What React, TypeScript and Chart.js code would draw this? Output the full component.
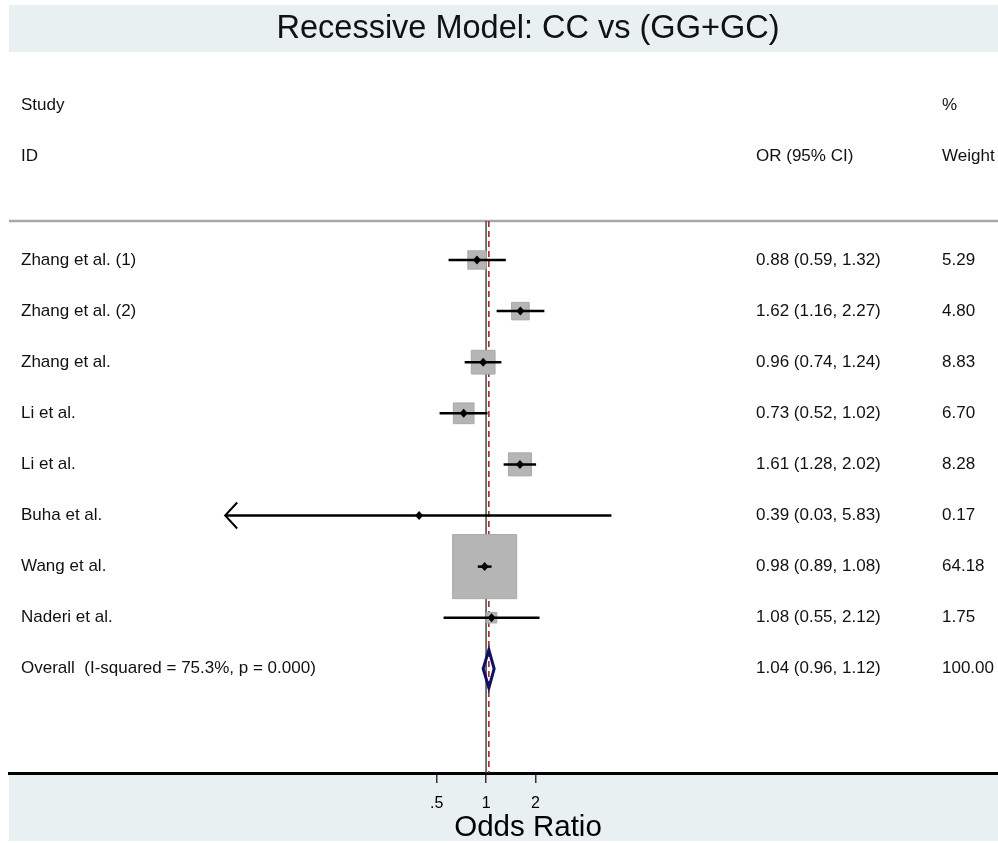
import React, { useEffect, useRef } from 'react';
import { Chart, registerables } from 'chart.js';

Chart.register(...registerables);

// ---- data ----
const studies = [
  'Zhang et al. (1)',
  'Zhang et al. (2)',
  'Zhang et al.',
  'Li et al.',
  'Li et al.',
  'Buha et al.',
  'Wang et al.',
  'Naderi et al.',
];
const oddsRatios = [0.88, 1.62, 0.96, 0.73, 1.61, 0.39, 0.98, 1.08];
const ciLower = [0.59, 1.16, 0.74, 0.52, 1.28, 0.0252, 0.89, 0.55];
const ciUpper = [1.32, 2.27, 1.24, 1.02, 2.02, 5.83, 1.08, 2.12];
const weights = [5.29, 4.8, 8.83, 6.7, 8.28, 0.17, 64.18, 1.75];

const overallLabel = 'Overall  (I-squared = 75.3%, p = 0.000)';
const overallOR = 1.04;
const overallLower = 0.96;
const overallUpper = 1.12;
const overallWeight = 100.0;

const tickValues = [0.5, 1, 2];
const tickLabels = ['.5', '1', '2'];

const chartTitle = 'Recessive Model: CC vs (GG+GC)';
const axisTitle = 'Odds Ratio';

// axis range (data space)
const axisMin = 0.00122;
const axisMax = 1338;
// confidence intervals reaching below this value are clipped and drawn with an arrow
const arrowClipValue = 0.0255;

const FONT = "'Liberation Sans', Arial, Helvetica, sans-serif";
const TEXT = '#111111';

const fmt = (v: number) => v.toFixed(2);

const forestPlugin = {
  id: 'forest',
  beforeDraw(chart: any) {
    const ctx = chart.ctx;
    ctx.save();
    ctx.fillStyle = '#ffffff';
    ctx.fillRect(0, 0, chart.width, chart.height);
    ctx.fillStyle = '#e8f0f2';
    ctx.fillRect(9, 5, chart.width - 9, 47);
    ctx.fillRect(9, 775, chart.width - 9, 66);
    ctx.fillStyle = TEXT;
    ctx.font = `32.5px ${FONT}`;
    ctx.textAlign = 'center';
    ctx.textBaseline = 'middle';
    ctx.fillText(chartTitle, 528, 29);
    ctx.font = `29.5px ${FONT}`;
    ctx.fillStyle = '#000';
    ctx.fillText(axisTitle, 528, 828);
    ctx.restore();
  },
  beforeDatasetsDraw(chart: any) {
    const ctx = chart.ctx;
    const { left, right, top, bottom } = chart.chartArea;
    const x = chart.scales.x;
    ctx.save();
    // header separator line
    ctx.strokeStyle = '#a9a9a9';
    ctx.lineWidth = 2.5;
    ctx.beginPath();
    ctx.moveTo(left, top);
    ctx.lineTo(right, top);
    ctx.stroke();
    // null line
    const nx = x.getPixelForValue(1);
    ctx.strokeStyle = '#444444';
    ctx.lineWidth = 1.5;
    ctx.beginPath();
    ctx.moveTo(nx, top);
    ctx.lineTo(nx, bottom);
    ctx.stroke();
    // overall estimate dashed line
    const ox = x.getPixelForValue(overallOR);
    ctx.strokeStyle = '#9b1c1c';
    ctx.setLineDash([6, 4]);
    ctx.beginPath();
    ctx.moveTo(ox, top);
    ctx.lineTo(ox, bottom);
    ctx.stroke();
    ctx.setLineDash([]);
    ctx.restore();
  },
  afterDatasetsDraw(chart: any) {
    const ctx = chart.ctx;
    const x = chart.scales.x;
    const y = chart.scales.y;
    ctx.save();
    // CI lines
    ctx.strokeStyle = '#000';
    ctx.lineWidth = 2.5;
    studies.forEach((_, i) => {
      const py = y.getPixelForValue(i);
      const clipped = ciLower[i] < arrowClipValue;
      const x1 = x.getPixelForValue(clipped ? arrowClipValue : ciLower[i]);
      const x2 = x.getPixelForValue(ciUpper[i]);
      ctx.beginPath();
      ctx.moveTo(x1, py);
      ctx.lineTo(x2, py);
      ctx.stroke();
      if (clipped) {
        ctx.lineWidth = 2;
        ctx.beginPath();
        ctx.moveTo(x1 + 12, py - 13);
        ctx.lineTo(x1, py);
        ctx.lineTo(x1 + 12, py + 13);
        ctx.stroke();
        ctx.lineWidth = 2.5;
      }
    });
    // point estimates (small diamonds) on top of the CI lines
    ctx.fillStyle = '#000';
    studies.forEach((_, i) => {
      const py = y.getPixelForValue(i);
      const px = x.getPixelForValue(oddsRatios[i]);
      ctx.beginPath();
      ctx.moveTo(px - 4, py);
      ctx.lineTo(px, py - 4.5);
      ctx.lineTo(px + 4, py);
      ctx.lineTo(px, py + 4.5);
      ctx.closePath();
      ctx.fill();
    });
    // overall diamond
    const oy = y.getPixelForValue(studies.length);
    const dl = x.getPixelForValue(overallLower);
    const dr = x.getPixelForValue(overallUpper);
    const dc = x.getPixelForValue(overallOR);
    ctx.strokeStyle = '#101060';
    ctx.lineWidth = 3;
    ctx.beginPath();
    ctx.moveTo(dl, oy);
    ctx.lineTo(dc, oy - 19);
    ctx.lineTo(dr, oy);
    ctx.lineTo(dc, oy + 19);
    ctx.closePath();
    ctx.stroke();

    // text columns
    ctx.fillStyle = TEXT;
    ctx.font = `17px ${FONT}`;
    ctx.textAlign = 'left';
    ctx.textBaseline = 'middle';
    const colStudy = 21;
    const colOR = 756;
    const colW = 942;
    ctx.fillText('Study', colStudy, y.getPixelForValue(-3.02));
    ctx.fillText('ID', colStudy, y.getPixelForValue(-2.02));
    ctx.fillText('OR (95% CI)', colOR, y.getPixelForValue(-2.02));
    ctx.fillText('%', colW, y.getPixelForValue(-3.02));
    ctx.fillText('Weight', colW, y.getPixelForValue(-2.02));
    studies.forEach((s, i) => {
      const py = y.getPixelForValue(i);
      ctx.fillText(s, colStudy, py);
      ctx.fillText(`${fmt(oddsRatios[i])} (${fmt(ciLower[i])}, ${fmt(ciUpper[i])})`, colOR, py);
      ctx.fillText(fmt(weights[i]), colW, py);
    });
    ctx.fillText(overallLabel, colStudy, oy);
    ctx.fillText(`${fmt(overallOR)} (${fmt(overallLower)}, ${fmt(overallUpper)})`, colOR, oy);
    ctx.fillText(fmt(overallWeight), colW, oy);
    ctx.restore();
  },
};

export default function App() {
  const ref = useRef<HTMLCanvasElement | null>(null);
  useEffect(() => {
    if (!ref.current) return;
    const chart = new Chart(ref.current, {
      type: 'scatter',
      data: {
        datasets: [
          {
            label: 'weights',
            data: studies.map((_, i) => ({ x: oddsRatios[i], y: i })),
            pointStyle: 'rect',
            pointRadius: weights.map((w) => (8 * Math.sqrt(w)) / Math.SQRT2),
            backgroundColor: '#b5b5b5',
            borderColor: '#a9a9a9',
            borderWidth: 1,
          },
        ],
      },
      options: {
        animation: false,
        responsive: false,
        events: [],
        layout: { autoPadding: false, padding: { top: 221, left: 9, right: 0, bottom: 0 } },
        plugins: {
          legend: { display: false },
          tooltip: { enabled: false },
          title: { display: false },
        },
        scales: {
          x: {
            type: 'logarithmic',
            min: axisMin,
            max: axisMax,
            afterBuildTicks: (scale: any) => {
              scale.ticks = tickValues.map((v) => ({ value: v }));
            },
            afterFit: (scale: any) => {
              scale.height = 70;
            },
            ticks: {
              autoSkip: false,
              maxRotation: 0,
              padding: 11,
              color: '#000',
              font: { size: 16, family: FONT },
              callback: (v: any) => {
                const idx = tickValues.indexOf(Number(v));
                return idx >= 0 ? tickLabels[idx] : '';
              },
            },
            grid: {
              drawOnChartArea: false,
              drawTicks: true,
              tickLength: 10,
              color: '#333',
              lineWidth: 1.5,
            },
            border: { display: true, color: '#000', width: 3 },
          },
          y: {
            type: 'linear',
            display: false,
            reverse: true,
            min: -0.763,
            max: 10.039,
          },
        },
      },
      plugins: [forestPlugin],
    });
    return () => chart.destroy();
  }, []);
  return (
    <div style={{ position: 'fixed', left: 0, top: 0, width: 998, height: 843, background: '#fff' }}>
      <canvas ref={ref} width={998} height={843} style={{ display: 'block' }} />
    </div>
  );
}
